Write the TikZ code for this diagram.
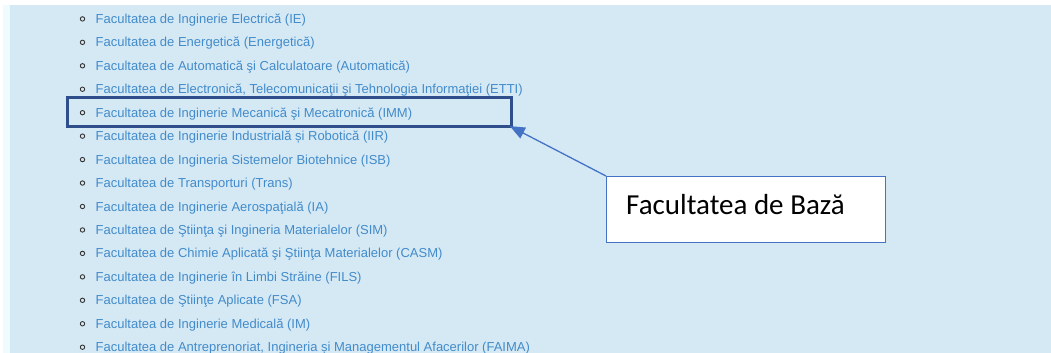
\documentclass[tikz,border=0pt]{standalone}
\usepackage{fontspec}
\newfontfamily\listfont{Liberation Sans}
\newfontfamily\notefont{Carlito}
\usetikzlibrary{calc,arrows.meta}
\definecolor{pagebg}{HTML}{D5E9F5}
\definecolor{edgebg}{HTML}{EEFCFF}
\definecolor{linkblue}{HTML}{428BCA}
\definecolor{markblue}{HTML}{2F4F8C}
\definecolor{noteblue}{HTML}{4472C4}
\tikzset{
	item/.style={anchor=base west, inner sep=0pt, text=linkblue, font=\listfont\fontsize{13}{13}\selectfont},
	bullet/.style={draw=black!80, line width=0.9pt},
}

\begin{document}
\begin{tikzpicture}[x=1pt, y=-1pt]
			\useasboundingbox (0, 0) rectangle (1051, 353);
			\clip (0, 0) rectangle (1051, 353);
			%%%%% START %%%%%
			\fill[white] (0, 0) rectangle (1051, 353);
			\fill[edgebg] (3, 5) rectangle (10, 353);
			\fill[pagebg] (10, 5) rectangle (1051, 353);
			
			\draw[bullet] (82.5, 18.9) circle (2.2pt);
			\node[item] (ie) at (95.5, 23.4) {Facultatea de Inginerie Electrică (IE)};
			
			\draw[bullet] (82.5, 42.35) circle (2.2pt);
			\node[item] (energ) at (95.5, 46.85) {Facultatea de Energetică (Energetică)};
			
			\draw[bullet] (82.5, 65.8) circle (2.2pt);
			\node[item] (autom) at (95.5, 70.3) {Facultatea de Automatică şi Calculatoare (Automatică)};
			
			\draw[bullet] (82.5, 89.25) circle (2.2pt);
			\node[item] (etti) at (95.5, 93.75) {Facultatea de Electronică, Telecomunicaţii şi Tehnologia Informaţiei (ETTI)};
			
			\draw[bullet] (82.5, 112.7) circle (2.2pt);
			\node[item] (imm) at (95.5, 117.2) {Facultatea de Inginerie Mecanică şi Mecatronică (IMM)};
			
			\draw[bullet] (82.5, 136.15) circle (2.2pt);
			\node[item] (iir) at (95.5, 140.65) {Facultatea de Inginerie Industrială și Robotică (IIR)};
			
			\draw[bullet] (82.5, 159.6) circle (2.2pt);
			\node[item] (isb) at (95.5, 164.1) {Facultatea de Ingineria Sistemelor Biotehnice (ISB)};
			
			\draw[bullet] (82.5, 183.05) circle (2.2pt);
			\node[item] (trans) at (95.5, 187.55) {Facultatea de Transporturi (Trans)};
			
			\draw[bullet] (82.5, 206.5) circle (2.2pt);
			\node[item] (ia) at (95.5, 211.0) {Facultatea de Inginerie Aerospaţială (IA)};
			
			\draw[bullet] (82.5, 229.95) circle (2.2pt);
			\node[item] (sim) at (95.5, 234.45) {Facultatea de Ştiinţa şi Ingineria Materialelor (SIM)};
			
			\draw[bullet] (82.5, 253.4) circle (2.2pt);
			\node[item] (casm) at (95.5, 257.9) {Facultatea de Chimie Aplicată şi Ştiinţa Materialelor (CASM)};
			
			\draw[bullet] (82.5, 276.85) circle (2.2pt);
			\node[item] (fils) at (95.5, 281.35) {Facultatea de Inginerie în Limbi Străine (FILS)};
			
			\draw[bullet] (82.5, 300.3) circle (2.2pt);
			\node[item] (fsa) at (95.5, 304.8) {Facultatea de Ştiinţe Aplicate (FSA)};
			
			\draw[bullet] (82.5, 323.75) circle (2.2pt);
			\node[item] (im) at (95.5, 328.25) {Facultatea de Inginerie Medicală (IM)};
			
			\draw[bullet] (82.5, 347.2) circle (2.2pt);
			\node[item] (faima) at (95.5, 351.7) {Facultatea de Antreprenoriat, Ingineria și Managementul Afacerilor (FAIMA)};
			
			\node[draw=markblue, line width=3pt, anchor=north west, inner sep=0pt, minimum width=443.5pt, minimum height=29pt] (mark) at (66, 95.5) {};
			
			\node[draw=noteblue, line width=1.3pt, fill=white, anchor=north west, inner sep=0pt, minimum width=279pt, minimum height=66pt] (note) at (606, 176) {};
			\node[anchor=base west, inner sep=0pt, font=\notefont\fontsize{29}{29}\selectfont] (notetext) at ($(note.north west)+(20, 38)$) {Facultatea de Bază};
			
			\draw[noteblue, line width=1.3pt, -{Triangle[length=15pt, width=12pt]}, shorten >=-3pt] (note.north west) -- (mark.south east);
			%%%%% END %%%%%
		\end{tikzpicture}
\end{document}
